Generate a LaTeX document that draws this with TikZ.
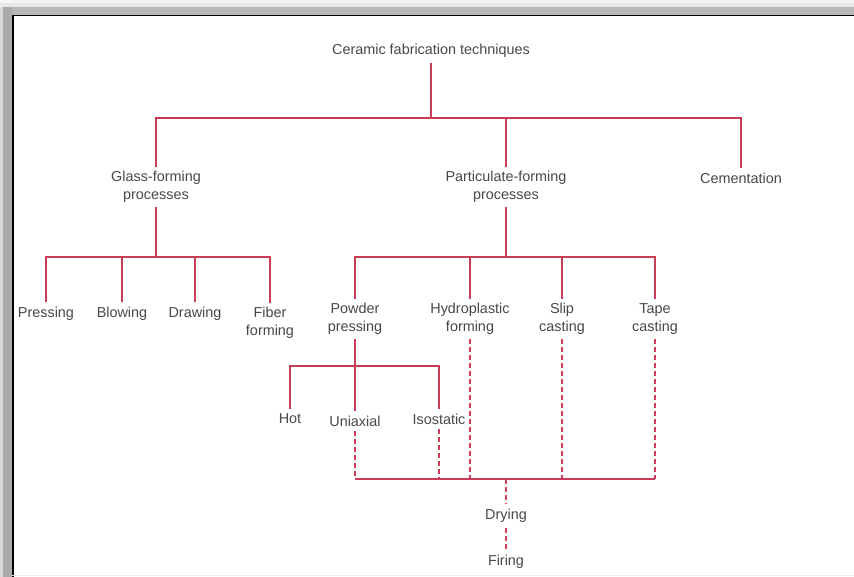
\documentclass[tikz,border=0pt]{standalone}
\usepackage{fontspec}
\setmainfont{Liberation Sans}
\usetikzlibrary{positioning}
\definecolor{linkred}{RGB}{200,60,86}
\definecolor{labelgray}{RGB}{72,72,72}
\definecolor{framegray}{RGB}{170,170,170}

\begin{document}
\begin{tikzpicture}[x=1pt, y=-1pt,
  lbl/.style={text=labelgray, font=\fontsize{14.4}{17.5}\selectfont, align=center, inner sep=0pt, outer sep=5pt},
  link/.style={linkred, line width=1.2pt},
  dlink/.style={link, dash pattern=on 5pt off 3pt}]
  \useasboundingbox (0,0) rectangle (854,577);
  % window frame
  \fill[white] (0,0) rectangle (854,577);
  \fill[gray!8] (0,0) rectangle (854,3);
  \fill[gray!18] (0,3) rectangle (854,7);
  \fill[framegray!85] (0,7) rectangle (854,15);
  \fill[framegray] (0,7) rectangle (12,577);
  \fill[gray!30] (0,7) rectangle (3,577);
  \draw[black, line width=1.5pt] (12.75,577) -- (12.75,15.75) -- (854,15.75);
  \draw[gray!15] (12,575.5) -- (854,575.5);
  % Top level
  \node[lbl] (root) at (431,51) {Ceramic fabrication techniques};
  \node[lbl] (glass) at (156,187) {Glass-forming\\processes};
  \node[lbl] (part) at (506,187) {Particulate-forming\\processes};
  \node[lbl] (cement) at (741,178) {Cementation};
  \coordinate (topbar) at (431,118);
  \draw[link] (root) -- (topbar);
  \draw[link] (glass) |- (topbar) -| (cement);
  \draw[link] (part) -- (part |- topbar);
  % Glass-forming branch
  \node[lbl] (press) at (46,314) {Pressing};
  \node[lbl] (blow) at (122,314) {Blowing};
  \node[lbl] (drawg) at (195,314) {Drawing};
  \node[lbl] (fiber) at (270,323) {Fiber\\forming};
  \coordinate (gbar) at (156,257);
  \draw[link] (glass) -- (gbar);
  \draw[link] (press) |- (gbar) -| (fiber);
  \draw[link] (blow) -- (blow |- gbar);
  \draw[link] (drawg) -- (drawg |- gbar);
  % Particulate-forming branch
  \node[lbl] (powder) at (355,319) {Powder\\pressing};
  \node[lbl] (hydro) at (470,319) {Hydroplastic\\forming};
  \node[lbl] (slip) at (562,319) {Slip\\casting};
  \node[lbl] (tape) at (655,319) {Tape\\casting};
  \coordinate (pbar) at (506,257);
  \draw[link] (part) -- (pbar);
  \draw[link] (powder) |- (pbar) -| (tape);
  \draw[link] (hydro) -- (hydro |- pbar);
  \draw[link] (slip) -- (slip |- pbar);
  % Powder pressing
  \node[lbl] (hot) at (290,419) {Hot};
  \node[lbl] (uni) at (355,421) {Uniaxial};
  \node[lbl] (iso) at (439,419) {Isostatic};
  \coordinate (hbar) at (355,366);
  \draw[link] (powder) -- (uni);
  \draw[link] (hot) |- (hbar) -| (iso);
  % Drying and firing
  \coordinate (botbar) at (506,479);
  \draw[link] (uni |- botbar) -- (tape |- botbar);
  \foreach \n in {uni,iso,hydro,slip,tape}
    \draw[dlink] (\n) -- (\n |- botbar);
  \node[lbl] (dry) at (506,516) {Drying};
  \node[lbl] (fire) at (506,562) {Firing};
  \draw[dlink] (botbar) -- (dry);
  \draw[dlink] (dry) -- (fire);
\end{tikzpicture}
\end{document}
